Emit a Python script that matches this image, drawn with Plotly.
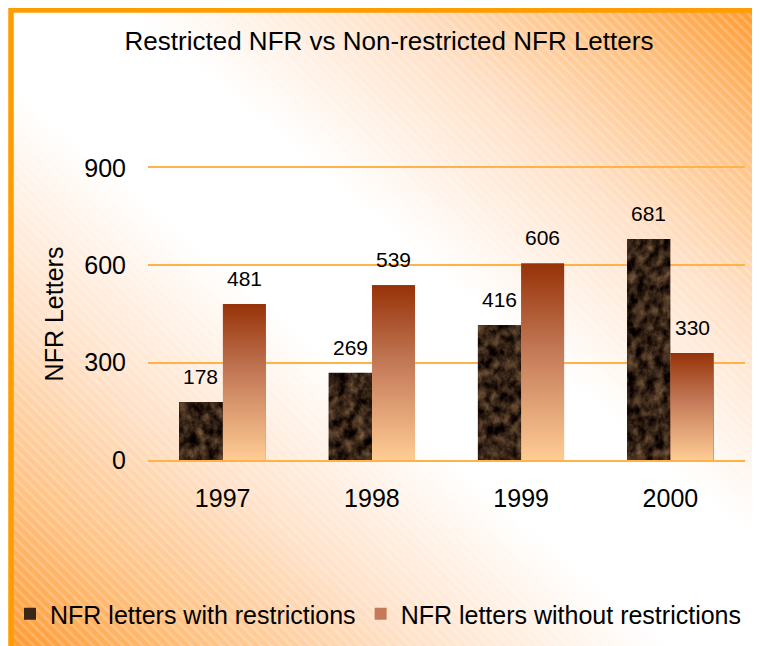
import base64

import plotly.graph_objects as go


YEARS = ['1997', '1998', '1999', '2000']
WITH_RESTRICTIONS = [178, 269, 416, 681]
WITHOUT_RESTRICTIONS = [481, 539, 606, 330]
Y_TICKS = [0, 300, 600, 900]
Y_MAX = 900

# the page body adds an 8px margin, so the figure is laid out 8px up/left
PAGE = 8
W, H = 760 - PAGE, 646 - PAGE
ML, MR, MT, MB = 140, 15, 160, 186
PLOT_W = W - ML - MR
PLOT_H = H - MT - MB
BAR_W = 0.29
FONT = 'Liberation Sans, Arial, sans-serif'
GRID = '#FFB347'


def svg_uri(svg):
    return 'data:image/svg+xml;base64,' + base64.b64encode(svg.encode()).decode()


# orange frame, diagonal white-to-orange fill and faint hatching
BACKGROUND = svg_uri(f"""<svg xmlns='http://www.w3.org/2000/svg' width='{W}' height='{H}' viewBox='0 0 {W} {H}' preserveAspectRatio='none'>
<defs>
<linearGradient id='g' x1='1' y1='0' x2='0' y2='1'>
<stop offset='0' stop-color='#FF9A30'/>
<stop offset='0.12' stop-color='#FFC283'/>
<stop offset='0.25' stop-color='#FFE1C8'/>
<stop offset='0.42' stop-color='#FFFFFF'/>
<stop offset='0.56' stop-color='#FFFFFF'/>
<stop offset='0.73' stop-color='#FFE1C8'/>
<stop offset='0.87' stop-color='#FFC283'/>
<stop offset='1' stop-color='#FF9A30'/>
</linearGradient>
<pattern id='p' width='7' height='7' patternUnits='userSpaceOnUse' patternTransform='rotate(-45)'>
<rect width='2.5' height='7' fill='#FFFFFF' opacity='0.22'/>
</pattern>
</defs>
<rect width='{W}' height='{H}' fill='#FFFFFF'/>
<rect x='3' y='2' width='{W - 3}' height='{H - 2}' fill='url(#g)'/>
<rect x='3' y='2' width='{W - 3}' height='{H - 2}' fill='url(#p)'/>
<path d='M3,{H} V2 H{W}' fill='none' stroke='#FF9C00' stroke-width='5.5'/>
</svg>""")

# rust to peach vertical gradient for the unrestricted series
RUST = svg_uri("""<svg xmlns='http://www.w3.org/2000/svg' width='10' height='100' viewBox='0 0 10 100' preserveAspectRatio='none'>
<linearGradient id='g' x1='0' y1='0' x2='0' y2='1'>
<stop offset='0' stop-color='#963208'/>
<stop offset='0.45' stop-color='#C47A58'/>
<stop offset='1' stop-color='#FFCC94'/>
</linearGradient>
<rect width='10' height='100' fill='url(#g)'/>
</svg>""")


def marble(value):
    # dark brown marble texture, drawn at the bar's own pixel size
    w = BAR_W * PLOT_W / len(YEARS)
    h = max(value * PLOT_H / Y_MAX, 1)
    return svg_uri(f"""<svg xmlns='http://www.w3.org/2000/svg' width='{w:.1f}' height='{h:.1f}' viewBox='0 0 {w:.1f} {h:.1f}' preserveAspectRatio='none'>
<filter id='f' x='0' y='0' width='100%' height='100%' color-interpolation-filters='sRGB'>
<feTurbulence type='fractalNoise' baseFrequency='0.11 0.09' numOctaves='4' seed='{int(value)}'/>
<feColorMatrix type='matrix' values='0.72 0 0 0 -0.15  0.58 0 0 0 -0.15  0.4 0 0 0 -0.11  0 0 0 0 1'/>
</filter>
<rect width='{w:.1f}' height='{h:.1f}' filter='url(#f)'/>
</svg>""")


pos = list(range(len(YEARS)))

fig = go.Figure()
fig.add_trace(go.Bar(
    x=pos, y=WITH_RESTRICTIONS, width=BAR_W, offset=-BAR_W,
    name='NFR letters with restrictions',
    marker=dict(color='#3B2718', line=dict(width=0)),
))
fig.add_trace(go.Bar(
    x=pos, y=WITHOUT_RESTRICTIONS, width=BAR_W, offset=0,
    name='NFR letters without restrictions',
    marker=dict(color='#C47A58', line=dict(width=0)),
))

images = [dict(source=BACKGROUND, xref='paper', yref='paper',
               x=-ML / PLOT_W, y=(PLOT_H + MT) / PLOT_H,
               sizex=W / PLOT_W, sizey=H / PLOT_H,
               xanchor='left', yanchor='top', sizing='stretch', layer='below')]
annotations = []
for series, shift in [(WITH_RESTRICTIONS, -BAR_W), (WITHOUT_RESTRICTIONS, 0)]:
    for i, v in zip(pos, series):
        src = marble(v) if shift else RUST
        images.append(dict(source=src, xref='x', yref='y',
                           x=i + shift, y=v, sizex=BAR_W, sizey=v,
                           xanchor='left', yanchor='top',
                           sizing='stretch', layer='above'))
        annotations.append(dict(x=i + shift + BAR_W / 2, y=v, text=str(v),
                                xref='x', yref='y', yanchor='bottom',
                                yshift=12, showarrow=False,
                                font=dict(size=21, color='#000000')))

fig.update_layout(
    width=W, height=H,
    margin=dict(l=ML, r=MR, t=MT, b=MB, pad=0, autoexpand=False),
    paper_bgcolor='#FFFFFF',
    plot_bgcolor='rgba(0,0,0,0)',
    font=dict(family=FONT, size=25, color='#000000'),
    title=dict(text='Restricted NFR vs Non-restricted NFR Letters',
               xref='container', yref='container',
               x=(389 - PAGE) / W, y=1 - (41 - PAGE) / H,
               xanchor='center', yanchor='middle',
               font=dict(size=26)),
    images=images,
    annotations=annotations,
    bargap=0, barmode='overlay',
    showlegend=True,
    legend=dict(orientation='h', xref='paper', yref='paper',
                x=(2 - ML) / PLOT_W, xanchor='left',
                y=(MT + PLOT_H - (614 - PAGE)) / PLOT_H, yanchor='middle',
                bgcolor='rgba(0,0,0,0)', font=dict(size=25),
                itemwidth=30, traceorder='normal'),
    xaxis=dict(range=[-0.5, len(YEARS) - 0.5], tickvals=pos, ticktext=YEARS,
               showgrid=False, zeroline=False, ticks='', automargin=False,
               showline=True, mirror=True, linecolor=GRID, linewidth=2,
               ticklabelstandoff=15, tickfont=dict(size=25)),
    yaxis=dict(range=[0, Y_MAX], tickvals=Y_TICKS, showgrid=True,
               gridcolor=GRID, gridwidth=2, zeroline=False, ticks='',
               automargin=False,
               ticklabelstandoff=21, tickfont=dict(size=25),
               title=dict(text='NFR Letters', standoff=13,
                          font=dict(size=25))),
)

fig.write_html('out.html')
